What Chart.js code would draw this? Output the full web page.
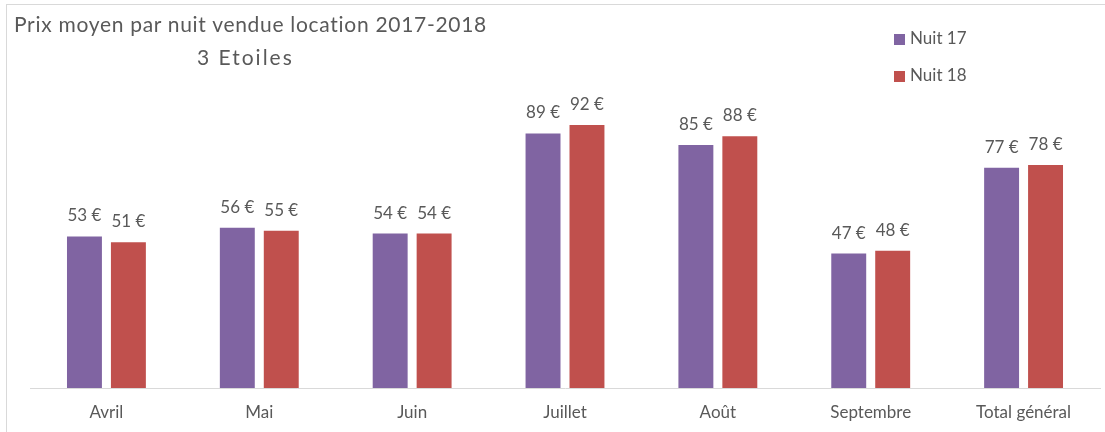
<!DOCTYPE html>
<html>
<head>
<meta charset="utf-8">
<script src="https://cdn.jsdelivr.net/npm/chart.js@4.4.0/dist/chart.umd.min.js"></script>
<style>
  body { margin: 0; background: #fff; }
  #wrap { position: relative; width: 1105px; height: 432px; overflow: hidden; }
  #frame { position: absolute; left: 6px; top: 4px; right: -2px; bottom: -2px; border-top: 1px solid #d9d9d9; border-left: 1px solid #d9d9d9; }
  .txt { position: absolute; font-family: Lato, sans-serif; color: #595959; white-space: nowrap; }
  #title { left: 14px; top: 11px; font-size: 21px; letter-spacing: 0.7px; }
  #sub { left: 197px; top: 44px; font-size: 21px; letter-spacing: 2px; }
  .leg { font-size: 17px; left: 894px; }
  .leg span { display: inline-block; width: 11px; height: 11px; margin-right: 5px; vertical-align: -1px; }
</style>
</head>
<body>
<div id="wrap">
  <canvas id="chart" width="1105" height="432"></canvas>
  <div id="frame"></div>
  <div id="title" class="txt">Prix moyen par nuit vendue location 2017-2018</div>
  <div id="sub" class="txt">3 Etoiles</div>
  <div id="leg1" class="txt leg" style="top:27px"><span style="background:#8064a2"></span>Nuit 17</div>
  <div id="leg2" class="txt leg" style="top:64px"><span style="background:#c0504d"></span>Nuit 18</div>
</div>
<script>
const months = ['Avril', 'Mai', 'Juin', 'Juillet', 'Août', 'Septembre', 'Total général'];
const nuit17 = [53, 56, 54, 89, 85, 47, 77];
const nuit18 = [51, 55, 54, 92, 88, 48, 78];

// draws "53 €" above each bar
const barLabels = {
    id: 'barLabels',
    afterDatasetsDraw(chart) {
        const ctx = chart.ctx;
        ctx.save();
        ctx.font = '17px Lato, sans-serif';
        ctx.fillStyle = '#595959';
        ctx.textAlign = 'center';
        ctx.textBaseline = 'alphabetic';
        chart.data.datasets.forEach((ds, i) => {
            chart.getDatasetMeta(i).data.forEach((bar, j) => {
                ctx.fillText(`${ds.data[j]} €`, bar.x, bar.y - 15);
            });
        });
        ctx.restore();
    }
};

new Chart('chart', {
    type: 'bar',
    data: {
        labels: months,
        datasets: [
            { label: 'Nuit 17', data: nuit17, backgroundColor: '#8064a2' },
            { label: 'Nuit 18', data: nuit18, backgroundColor: '#c0504d' }
        ]
    },
    options: {
        responsive: false,
        animation: false,
        events: [],
        categoryPercentage: 0.575,
        barPercentage: 0.795,
        layout: { padding: { left: 30, right: 5, top: 102, bottom: 0 } },
        plugins: {
            legend: { display: false },
            title: { display: false },
            tooltip: { enabled: false }
        },
        scales: {
            x: {
                grid: { display: false, drawTicks: false },
                border: { display: true, color: '#d9d9d9', width: 1 },
                ticks: { color: '#595959', font: { family: 'Lato', size: 17 }, padding: 14 },
                afterFit(scale) { scale.height = 44; }
            },
            y: {
                display: false,
                min: 0,
                max: 100
            }
        }
    },
    plugins: [barLabels]
});
</script>
</body>
</html>
